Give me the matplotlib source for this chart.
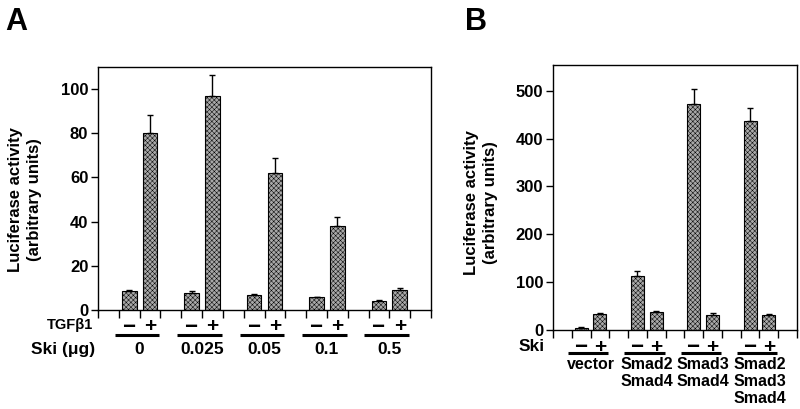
import numpy as np
import matplotlib.pyplot as plt
from matplotlib.transforms import blended_transform_factory

plt.rcParams['font.family'] = ['Liberation Sans', 'DejaVu Sans']
plt.rcParams['font.weight'] = 'bold'
plt.rcParams['hatch.linewidth'] = 0.35

# ---------------------------
# Daten Panel A (TGFb1 -/+ bei verschiedenen Ski-Mengen)
# ---------------------------
ski_mengen = ['0', '0.025', '0.05', '0.1', '0.5']
a_minus = [8.6, 7.9, 6.8, 5.8, 4.1]
a_minus_err = [0.5, 0.9, 0.4, 0.3, 0.3]
a_plus = [80.0, 96.7, 62.1, 38.2, 9.1]
a_plus_err = [8.4, 9.8, 6.6, 3.8, 1.0]

# ---------------------------
# Daten Panel B (Ski -/+ bei Smad-Kombinationen)
# ---------------------------
smad_gruppen = ['vector', 'Smad2\nSmad4', 'Smad3\nSmad4', 'Smad2\nSmad3\nSmad4']
b_minus = [5, 113, 472, 436]
b_minus_err = [1.5, 10, 32, 29]
b_plus = [33, 38, 31, 31]
b_plus_err = [3, 2, 4.5, 1.5]

balken_farbe = '#a8a8a8'
breite = 0.7


def balken(ax, x, werte, fehler):
    ax.bar(x, werte, width=breite, color=balken_farbe, edgecolor='black',
           linewidth=0.8, hatch='xxxxxxx', zorder=2)
    ax.errorbar(x, werte, yerr=[np.zeros(len(werte)), fehler], fmt='none',
                ecolor='black', elinewidth=1.0, capsize=2.5, capthick=1.0, zorder=3)


def beschriftung(ax, x_minus, x_plus, y_zeichen, y_linie, links, rechts):
    trans = blended_transform_factory(ax.transData, ax.transAxes)
    for xm, xp in zip(x_minus, x_plus):
        ax.text(xm - 0.05, y_zeichen, '\u2212', transform=trans, ha='center',
                va='center_baseline', fontsize=16, fontweight='bold')
        ax.text(xp, y_zeichen, '+', transform=trans, ha='center',
                va='center_baseline', fontsize=15, fontweight='bold')
    for l, r in zip(links, rechts):
        ax.plot([l, r], [y_linie, y_linie], color='black', linewidth=2.2,
                transform=trans, clip_on=False, solid_capstyle='butt')


def achsen_stil(ax):
    for s in ax.spines.values():
        s.set_linewidth(1.0)
    ax.tick_params(axis='y', direction='out', length=5, width=1.0, pad=2,
                   labelsize=12)
    ax.tick_params(axis='x', direction='out', length=5.5, width=1.0,
                   labelbottom=False)
    for lab in ax.get_yticklabels():
        lab.set_fontweight('bold')


fig = plt.figure(figsize=(8, 4.09), dpi=100)

# ---------------------------
# Panel A
# ---------------------------
axA = fig.add_axes([98 / 800, 99 / 409, 333 / 800, 243 / 409])
gA = np.arange(len(ski_mengen))
xa_minus = 3 * gA + 1.5
xa_plus = 3 * gA + 2.5
balken(axA, xa_minus, a_minus, a_minus_err)
balken(axA, xa_plus, a_plus, a_plus_err)
axA.set_xlim(0, 16)
axA.set_ylim(0, 110)
axA.set_yticks([0, 20, 40, 60, 80, 100])
axA.set_xticks(np.arange(0, 17))
achsen_stil(axA)

beschriftung(axA, xa_minus, xa_plus, -0.060, -0.103, 3 * gA + 0.8, 3 * gA + 2.95)
transA = blended_transform_factory(axA.transData, axA.transAxes)
for xm, name in zip(3 * gA + 2, ski_mengen):
    axA.text(xm, -0.163, name, transform=transA, ha='center', va='center',
             fontsize=12.5, fontweight='bold')
axA.text(-0.015, -0.062, 'TGF\u03b21', transform=axA.transAxes, ha='right',
         va='center', fontsize=10.5, fontweight='bold')
axA.text(-0.009, -0.163, 'Ski (\u03bcg)', transform=axA.transAxes, ha='right',
         va='center', fontsize=12.5, fontweight='bold')

fig.text(25 / 800, 1 - 200 / 409, 'Luciferase activity\n(arbitrary units)',
         rotation=90, ha='center', va='center', multialignment='center',
         fontsize=12, fontweight='bold', linespacing=1.35)
fig.text(5 / 800, 1 - 30 / 409, 'A', fontsize=22, fontweight='bold',
         ha='left', va='baseline')

# ---------------------------
# Panel B
# ---------------------------
axB = fig.add_axes([553 / 800, 79 / 409, 244 / 800, 265 / 409])
gB = np.arange(len(smad_gruppen))
xb_minus = 3 * gB + 0.5
xb_plus = 3 * gB + 1.5
balken(axB, xb_minus, b_minus, b_minus_err)
balken(axB, xb_plus, b_plus, b_plus_err)
axB.set_xlim(-1, 12)
axB.set_ylim(0, 554)
axB.set_yticks([0, 100, 200, 300, 400, 500])
axB.set_xticks(np.arange(-1, 13))
achsen_stil(axB)

beschriftung(axB, xb_minus, xb_plus, -0.058, -0.088, 3 * gB - 0.2, 3 * gB + 1.95)
transB = blended_transform_factory(axB.transData, axB.transAxes)
for xm, name in zip(3 * gB + 1, smad_gruppen):
    axB.text(xm, -0.103, name, transform=transB, ha='center', va='top',
             fontsize=11.5, fontweight='bold', linespacing=1.15)
axB.text(-0.033, -0.062, 'Ski', transform=axB.transAxes, ha='right',
         va='center', fontsize=12.5, fontweight='bold')

fig.text(481 / 800, 1 - 203 / 409, 'Luciferase activity\n(arbitrary units)',
         rotation=90, ha='center', va='center', multialignment='center',
         fontsize=12, fontweight='bold', linespacing=1.35)
fig.text(465 / 800, 1 - 30 / 409, 'B', fontsize=22, fontweight='bold',
         ha='left', va='baseline')

fig.savefig('out.png', dpi=100)
